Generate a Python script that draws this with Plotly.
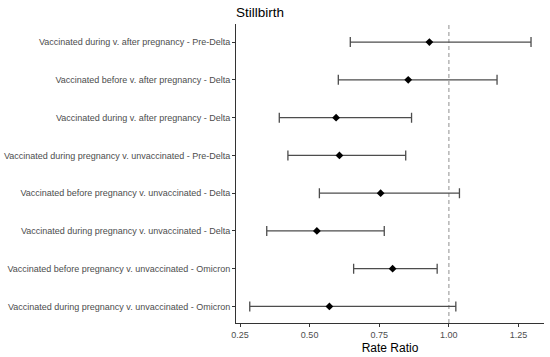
import plotly.graph_objects as go

categories = [
    "Vaccinated during v. after pregnancy - Pre-Delta",
    "Vaccinated before v. after pregnancy - Delta",
    "Vaccinated during v. after pregnancy - Delta",
    "Vaccinated during pregnancy v. unvaccinated - Pre-Delta",
    "Vaccinated before pregnancy v. unvaccinated - Delta",
    "Vaccinated during pregnancy v. unvaccinated - Delta",
    "Vaccinated before pregnancy v. unvaccinated - Omicron",
    "Vaccinated during pregnancy v. unvaccinated - Omicron",
]
estimate = [0.930, 0.854, 0.595, 0.607, 0.755, 0.526, 0.798, 0.571]
lower = [0.646, 0.603, 0.391, 0.422, 0.535, 0.346, 0.658, 0.285]
upper = [1.295, 1.173, 0.866, 0.845, 1.038, 0.768, 0.958, 1.025]
x_ticks = [0.25, 0.50, 0.75, 1.00, 1.25]
x_tick_labels = ["0.25", "0.50", "0.75", "1.00", "1.25"]

# bottom-to-top order for the y axis
cats_rev = categories[::-1]
est_rev = estimate[::-1]
lo_rev = lower[::-1]
up_rev = upper[::-1]

fig = go.Figure()
fig.add_trace(go.Scatter(
    x=est_rev, y=cats_rev, mode="markers",
    marker=dict(symbol="diamond", size=6, color="black"),
    error_x=dict(type="data", symmetric=False,
                 array=[u - e for u, e in zip(up_rev, est_rev)],
                 arrayminus=[e - l for e, l in zip(est_rev, lo_rev)],
                 color="#4d4d4d", thickness=1.3, width=5),
    showlegend=False,
))

fig.add_vline(x=1.0, line=dict(color="#aaaaaa", width=1.3, dash="4px,3px"), layer="below")

fig.update_layout(
    width=550, height=357,
    margin=dict(l=236, r=6, t=24, b=34, autoexpand=False),
    paper_bgcolor="white", plot_bgcolor="white",
    font=dict(family="Liberation Sans, Arial, sans-serif"),
    title=dict(text="Stillbirth", x=236/550, xanchor="left", y=1 - 12/357, yanchor="middle",
               font=dict(size=13.5, color="black")),
    xaxis=dict(
        range=[0.2356, 1.3416], tickvals=x_ticks, ticktext=x_tick_labels,
        showgrid=False, zeroline=False, showline=True, linecolor="#333333", linewidth=1,
        ticks="outside", ticklen=3, tickcolor="#333333", automargin=False,
        tickfont=dict(size=9, color="#4d4d4d"),
        title=dict(text="Rate Ratio", font=dict(size=12, color="black"), standoff=4),
    ),
    yaxis=dict(
        categoryorder="array", categoryarray=cats_rev,
        range=[-0.44, 7.48], automargin=False,
        showgrid=False, zeroline=False, showline=True, linecolor="#333333", linewidth=1,
        ticks="outside", ticklen=3, tickcolor="#333333",
        tickfont=dict(size=9, color="#4d4d4d"),
    ),
)

fig.write_html("out.html", config={"displayModeBar": False},
               post_script="document.body.style.margin='0';document.body.style.overflow='hidden';")
